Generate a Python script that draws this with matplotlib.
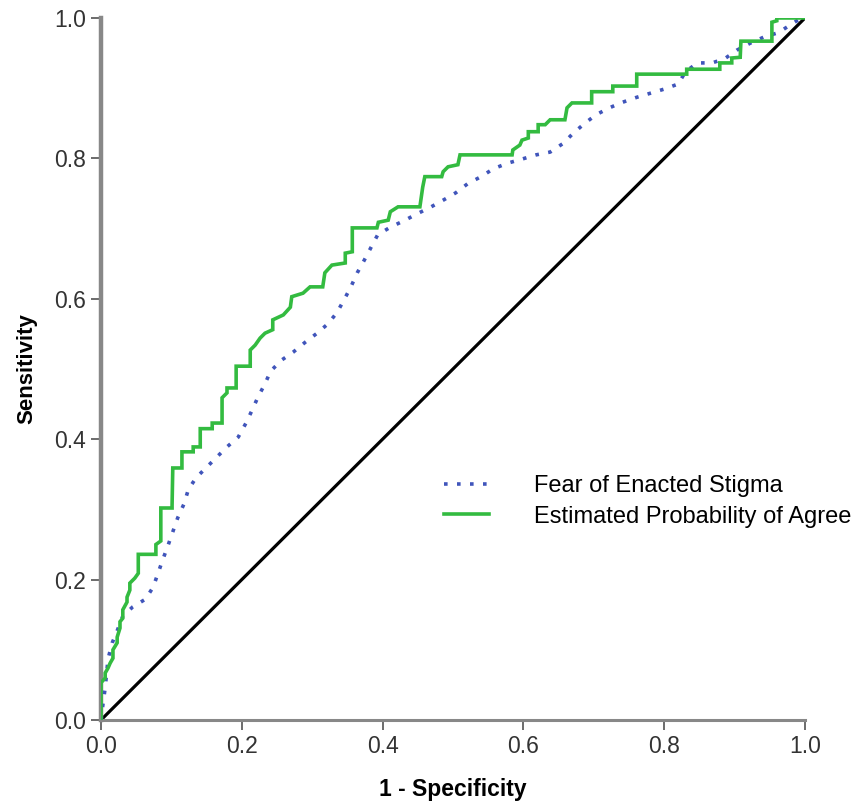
import numpy as np
import matplotlib
matplotlib.use("Agg")
import matplotlib.pyplot as plt

plt.rcParams['font.family'] = ['Liberation Sans', 'DejaVu Sans']

# ROC curve vertices (1 - specificity, sensitivity)
fear_fpr = [0, 0.003, 0.006, 0.010, 0.016, 0.023, 0.031, 0.045, 0.063, 0.074, 0.081, 0.088,
            0.095, 0.102, 0.109, 0.118, 0.124, 0.135, 0.149, 0.165, 0.179, 0.195, 0.206,
            0.214, 0.223, 0.233, 0.241, 0.257, 0.273, 0.290, 0.307, 0.322, 0.335, 0.345,
            0.355, 0.364, 0.374, 0.384, 0.393, 0.411, 0.430, 0.449, 0.469, 0.487, 0.504,
            0.521, 0.540, 0.557, 0.577, 0.598, 0.618, 0.638, 0.656, 0.670, 0.686, 0.703,
            0.722, 0.741, 0.761, 0.781, 0.801, 0.820, 0.830, 0.847, 0.868, 0.886, 0.903,
            0.922, 0.942, 0.962, 0.979, 0.990, 1.0]
fear_tpr = [0, 0.024, 0.046, 0.087, 0.110, 0.127, 0.148, 0.161, 0.172, 0.189, 0.209, 0.229,
            0.248, 0.268, 0.288, 0.308, 0.328, 0.345, 0.359, 0.375, 0.389, 0.403, 0.423,
            0.440, 0.460, 0.479, 0.497, 0.513, 0.524, 0.538, 0.551, 0.564, 0.580, 0.598,
            0.617, 0.637, 0.655, 0.674, 0.691, 0.702, 0.711, 0.721, 0.731, 0.741, 0.751,
            0.764, 0.774, 0.785, 0.793, 0.799, 0.805, 0.809, 0.821, 0.835, 0.849, 0.862,
            0.872, 0.880, 0.887, 0.893, 0.899, 0.906, 0.923, 0.936, 0.936, 0.942, 0.954,
            0.964, 0.973, 0.979, 0.990, 0.997, 1.0]

prob_fpr = [0, 0, 0.006, 0.006, 0.010, 0.013, 0.017, 0.017, 0.023, 0.023, 0.027, 0.027,
            0.031, 0.031, 0.037, 0.037, 0.041, 0.041, 0.048, 0.053, 0.053, 0.078, 0.078,
            0.085, 0.085, 0.101, 0.101, 0.102, 0.115, 0.115, 0.131, 0.131, 0.141, 0.141,
            0.158, 0.158, 0.172, 0.172, 0.179, 0.179, 0.192, 0.192, 0.212, 0.212, 0.219,
            0.226, 0.233, 0.244, 0.244, 0.259, 0.269, 0.271, 0.287, 0.297, 0.315, 0.318,
            0.328, 0.347, 0.347, 0.357, 0.357, 0.392, 0.394, 0.408, 0.411, 0.422, 0.453,
            0.457, 0.460, 0.484, 0.486, 0.493, 0.507, 0.510, 0.584, 0.585, 0.595, 0.598,
            0.607, 0.607, 0.621, 0.621, 0.631, 0.638, 0.659, 0.662, 0.669, 0.697, 0.697,
            0.727, 0.727, 0.761, 0.761, 0.832, 0.832, 0.879, 0.879, 0.896, 0.896, 0.908,
            0.909, 0.953, 0.953, 0.960, 0.960, 1.0]
prob_tpr = [0, 0.053, 0.060, 0.067, 0.074, 0.081, 0.088, 0.100, 0.110, 0.118, 0.131, 0.140,
            0.145, 0.157, 0.168, 0.175, 0.185, 0.195, 0.202, 0.209, 0.236, 0.236, 0.250,
            0.255, 0.302, 0.302, 0.306, 0.359, 0.359, 0.382, 0.382, 0.389, 0.389, 0.415,
            0.415, 0.423, 0.423, 0.459, 0.466, 0.473, 0.473, 0.504, 0.504, 0.527, 0.534,
            0.544, 0.551, 0.556, 0.570, 0.577, 0.588, 0.603, 0.608, 0.617, 0.617, 0.637,
            0.648, 0.651, 0.665, 0.667, 0.701, 0.701, 0.709, 0.712, 0.724, 0.731, 0.731,
            0.759, 0.774, 0.774, 0.781, 0.788, 0.791, 0.805, 0.805, 0.812, 0.819, 0.826,
            0.829, 0.838, 0.838, 0.848, 0.848, 0.855, 0.855, 0.872, 0.879, 0.879, 0.895,
            0.895, 0.903, 0.903, 0.920, 0.920, 0.927, 0.927, 0.936, 0.936, 0.943, 0.944,
            0.967, 0.967, 0.994, 0.996, 1.0, 1.0]

ref_line = [0, 1]
ticks = [0.0, 0.2, 0.4, 0.6, 0.8, 1.0]

fig = plt.figure(figsize=(8.55, 8.10), dpi=100)
ax = fig.add_axes([0.1181, 0.1111, 0.8234, 0.8667])

ax.plot(ref_line, ref_line, color='black', lw=2.3, zorder=2)
ax.plot(fear_fpr, fear_tpr, color='#4055BB', lw=2.6, linestyle=(0, (1, 2.6)),
        label='Fear of Enacted Stigma', zorder=3)
ax.plot(prob_fpr, prob_tpr, color='#33BB40', lw=2.6, solid_joinstyle='miter',
        label='Estimated Probability of Agree', zorder=4)

ax.set_xlim(0, 1)
ax.set_ylim(0, 1)
ax.set_xticks(ticks)
ax.set_yticks(ticks)
ax.set_xticklabels([f'{t:.1f}' for t in ticks])
ax.set_yticklabels([f'{t:.1f}' for t in ticks])

for side in ['top', 'right']:
    ax.spines[side].set_visible(False)
ax.spines['left'].set_color('#888888')
ax.spines['left'].set_linewidth(3.2)
ax.spines['bottom'].set_color('#888888')
ax.spines['bottom'].set_linewidth(2.2)

ax.tick_params(direction='out', length=7, width=1.1, color='#444444',
               labelsize=16.5, labelcolor='#333333', pad=4)

ax.set_xlabel('1 - Specificity', fontsize=16.5, fontweight='bold', labelpad=14)
ax.set_ylabel('Sensitivity', fontsize=16, fontweight='bold', labelpad=12)

ax.legend(loc='upper left', bbox_to_anchor=(0.487, 0.349), frameon=False,
          fontsize=17, handlelength=1.9, handletextpad=1.9,
          borderpad=0, borderaxespad=0, labelspacing=0.37)

fig.savefig('out.png', dpi=100)
